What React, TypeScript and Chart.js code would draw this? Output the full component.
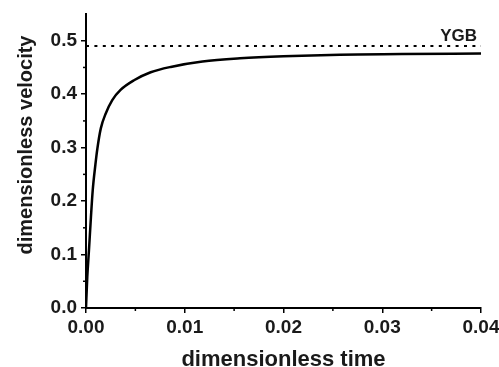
import React, { useEffect, useRef } from 'react';
import { Chart, registerables } from 'chart.js';

Chart.register(...registerables);

const timeValues = [0, 0.00013, 0.0003, 0.0005, 0.00068, 0.00095, 0.00115, 0.0015, 0.002, 0.00266, 0.0035, 0.00486, 0.00655, 0.00858, 0.0118, 0.0156, 0.02, 0.0257, 0.032, 0.04];
const velocityValues = [0, 0.058, 0.108, 0.17, 0.22, 0.268, 0.298, 0.336, 0.364, 0.389, 0.408, 0.426, 0.441, 0.451, 0.461, 0.467, 0.471, 0.474, 0.475, 0.476];
const ygbTimes = [0, 0.04];
const ygbLevel = 0.49;
const ygbLabel = 'YGB';
const xTitle = 'dimensionless time';
const yTitle = 'dimensionless velocity';
const xMinorTicks = [0.005, 0.015, 0.025, 0.035];
const yMinorTicks = [0.05, 0.15, 0.25, 0.35, 0.45];

const FONT = '"Liberation Sans", Arial, Helvetica, sans-serif';
const INK = '#1a1a1a';

const decorPlugin = {
  id: 'decor',
  afterDraw(chart: any) {
    const { ctx, chartArea, scales } = chart;
    const xs = scales.x;
    const ys = scales.y;
    ctx.save();
    ctx.strokeStyle = '#000';
    ctx.lineWidth = 1.5;
    xMinorTicks.forEach((v) => {
      const px = xs.getPixelForValue(v);
      ctx.beginPath();
      ctx.moveTo(px, chartArea.bottom);
      ctx.lineTo(px, chartArea.bottom + 3);
      ctx.stroke();
    });
    yMinorTicks.forEach((v) => {
      const py = ys.getPixelForValue(v);
      ctx.beginPath();
      ctx.moveTo(chartArea.left, py);
      ctx.lineTo(chartArea.left - 3, py);
      ctx.stroke();
    });
    ctx.fillStyle = INK;
    ctx.font = `bold 17px ${FONT}`;
    ctx.textAlign = 'right';
    ctx.textBaseline = 'alphabetic';
    ctx.fillText(ygbLabel, xs.getPixelForValue(ygbTimes[1]) - 4, ys.getPixelForValue(ygbLevel) - 5);
    ctx.font = `bold 22px ${FONT}`;
    ctx.textAlign = 'center';
    ctx.fillText(xTitle, (chartArea.left + chartArea.right) / 2, 366);
    ctx.font = `bold 20px ${FONT}`;
    ctx.translate(26, 145);
    ctx.rotate(-Math.PI / 2);
    ctx.textAlign = 'center';
    ctx.textBaseline = 'middle';
    ctx.fillText(yTitle, 0, 0);
    ctx.restore();
  },
};

export default function App() {
  const canvasRef = useRef<HTMLCanvasElement | null>(null);

  useEffect(() => {
    if (!canvasRef.current) return;
    const chart = new Chart(canvasRef.current, {
      type: 'line',
      data: {
        datasets: [
          {
            data: timeValues.map((t, i) => ({ x: t, y: velocityValues[i] })),
            borderColor: '#000',
            borderWidth: 2.5,
            pointRadius: 0,
            cubicInterpolationMode: 'monotone',
            fill: false,
          },
          {
            data: ygbTimes.map((t) => ({ x: t, y: ygbLevel })),
            borderColor: '#000',
            borderWidth: 2,
            borderDash: [3, 5.4],
            pointRadius: 0,
            fill: false,
          },
        ],
      },
      options: {
        animation: false,
        responsive: false,
        maintainAspectRatio: false,
        layout: { padding: { top: 14, right: 18, left: 0, bottom: 0 } },
        plugins: { legend: { display: false }, tooltip: { enabled: false } },
        scales: {
          x: {
            type: 'linear',
            min: 0,
            max: 0.04,
            afterFit(scale: any) {
              scale.height = 59;
              scale.paddingLeft = 0;
              scale.paddingRight = 0;
            },
            ticks: {
              stepSize: 0.01,
              padding: 3,
              color: INK,
              font: { family: FONT, size: 19, weight: 'bold' },
              maxRotation: 0,
              callback: (v: any) => Number(v).toFixed(2),
            },
            grid: { display: true, drawOnChartArea: false, drawTicks: true, tickLength: 5, color: '#000', lineWidth: 1.5 },
            border: { display: true, color: '#000', width: 2 },
          },
          y: {
            type: 'linear',
            min: 0,
            max: 0.55,
            afterFit(scale: any) {
              scale.width = 86;
              scale.paddingTop = 0;
              scale.paddingBottom = 0;
            },
            ticks: {
              stepSize: 0.1,
              includeBounds: false,
              padding: 4,
              color: INK,
              font: { family: FONT, size: 19, weight: 'bold' },
              callback: (v: any) => Number(v).toFixed(1),
            },
            grid: { display: true, drawOnChartArea: false, drawTicks: true, tickLength: 5, color: '#000', lineWidth: 1.5 },
            border: { display: true, color: '#000', width: 2 },
          },
        },
      },
      plugins: [decorPlugin],
    } as any);
    return () => chart.destroy();
  }, []);

  return (
    <div style={{ position: 'fixed', left: 0, top: 0, width: 499, height: 367, background: '#fff' }}>
      <canvas ref={canvasRef} width={499} height={367} style={{ display: 'block', width: 499, height: 367 }} />
    </div>
  );
}
